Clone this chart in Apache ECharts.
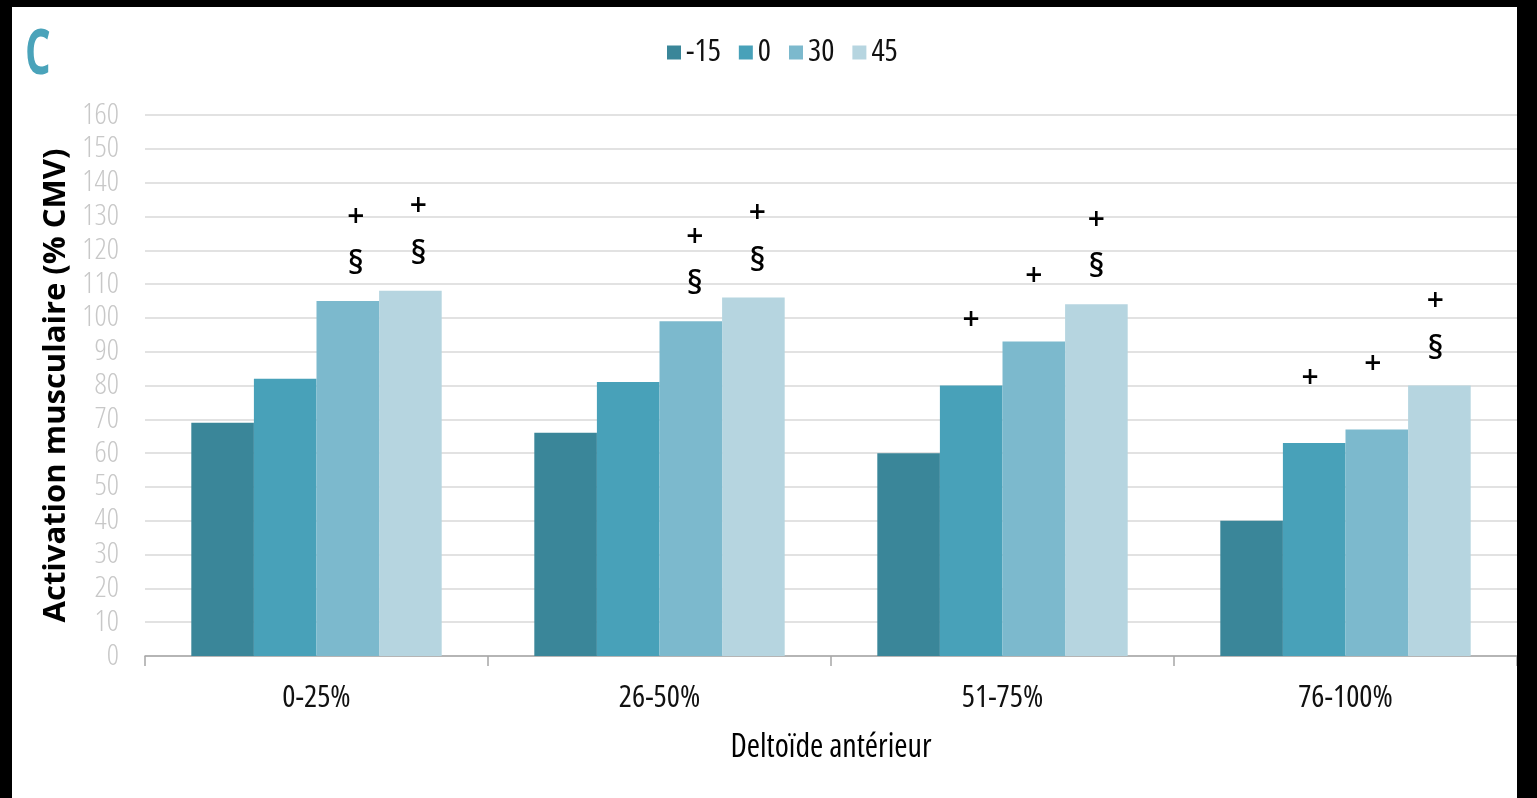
<!DOCTYPE html>
<html>
<head>
<meta charset="utf-8">
<script src="https://cdn.jsdelivr.net/npm/echarts@6/dist/echarts.min.js"></script>
<style>
html,body{margin:0;padding:0;background:#000;width:1537px;height:798px;overflow:hidden;}
#chart{position:absolute;left:12px;top:7px;width:1505px;height:791px;background:#fff;}
</style>
</head>
<body>
<div id="chart"></div>
<script>
const categories = ['0-25%', '26-50%', '51-75%', '76-100%'];
const seriesNames = ['-15', '0', '30', '45'];
const valuesM15 = [69, 66, 60, 40];
const values0 = [82, 81, 80, 63];
const values30 = [105, 99, 93, 67];
const values45 = [108, 106, 104, 80];
const sigM15 = ['', '', '', ''];
const sig0 = ['', '', '+', '+'];
const sig30 = ['+§', '+§', '+', '+'];
const sig45 = ['+§', '+§', '+§', '+§'];
const yTicks = [0, 160, 10];

const colors = ['#3a8699', '#48a1b9', '#7cb9cd', '#b6d5e0'];
const NARROW = "'Open Sans', sans-serif";
const COND = 'condensed';
const allValues = [valuesM15, values0, values30, values45];
const allSig = [sigM15, sig0, sig30, sig45];

function makeData(vals, sigs) {
  return vals.map((v, i) => {
    const s = sigs[i];
    if (!s) return { value: v };
    const both = s.indexOf('§') >= 0;
    return {
      value: v,
      label: {
        show: true,
        position: 'top',
        distance: both ? 12 : 41,
        offset: [8 - 4 * i, 0],
        formatter: both ? '{p|+}\n{s|§}' : '{p|+}',
        rich: {
          p: { fontSize: 30, fontFamily: 'Open Sans', color: '#000', lineHeight: 48, fontWeight: 600 },
          s: { fontSize: 32, fontFamily: 'Open Sans', color: '#000', lineHeight: 48, fontWeight: 600 }
        }
      }
    };
  });
}

const chart = echarts.init(document.getElementById('chart'));
chart.setOption({
  animation: false,
  backgroundColor: '#fff',
  graphic: [{
    type: 'text',
    left: 13, top: 18,
    scaleX: 0.65,
    style: { text: 'C', fill: '#4aa3ba', font: "bold 62px 'Open Sans', sans-serif" }
  }],
  legend: {
    left: 650, top: 25,
    itemWidth: 14, itemHeight: 14, itemGap: 18,
    icon: 'rect',
    textStyle: { fontSize: 31, fontStyle: COND, fontFamily: NARROW, color: '#111' },
    data: seriesNames
  },
  grid: { left: 133, right: 0, top: 108, bottom: 142, containLabel: false },
  xAxis: {
    type: 'category',
    data: categories,
    axisLine: { lineStyle: { color: '#a6a6a6', width: 1.5 } },
    axisTick: { show: true, length: 10, lineStyle: { color: '#a6a6a6', width: 1.5 } },
    axisLabel: { fontSize: 31, fontStyle: COND, fontFamily: NARROW, color: '#111', margin: 27 },
    name: 'Deltoïde antérieur',
    nameLocation: 'middle',
    nameGap: 76,
    nameTextStyle: { fontSize: 32, fontStyle: COND, fontFamily: NARROW, color: '#000' }
  },
  yAxis: {
    type: 'value',
    min: yTicks[0], max: yTicks[1], interval: yTicks[2],
    axisLine: { show: false },
    axisTick: { show: false },
    splitLine: { lineStyle: { color: '#d9d9d9', width: 1.5 } },
    axisLabel: { fontSize: 30, fontStyle: COND, fontWeight: 300, fontFamily: NARROW, color: '#c8c8c8', margin: 26 },
    name: 'Activation musculaire (% CMV)',
    nameLocation: 'middle',
    nameGap: 53,
    nameTextStyle: { fontSize: 31, fontFamily: 'Open Sans', fontWeight: 'bold', color: '#000' }
  },
  series: seriesNames.map((n, k) => ({
    name: n,
    type: 'bar',
    barGap: '0%',
    barCategoryGap: '27%',
    itemStyle: { color: colors[k] },
    data: makeData(allValues[k], allSig[k])
  }))
});
</script>
</body>
</html>
